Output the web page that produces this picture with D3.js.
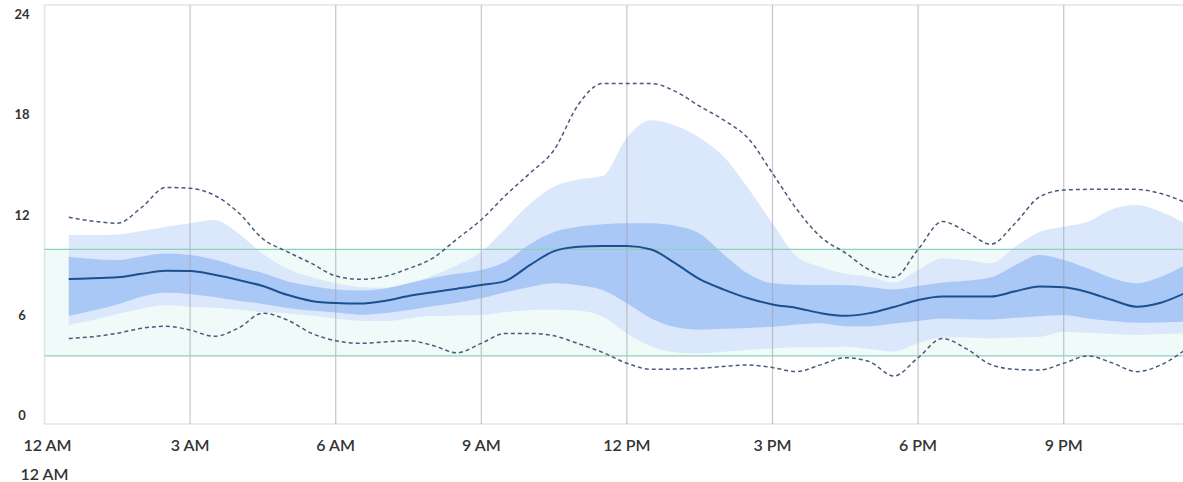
<!DOCTYPE html>
<html>
<head>
<meta charset="utf-8">
<script src="https://cdn.jsdelivr.net/npm/d3@7"></script>
<style>
  html, body { margin: 0; padding: 0; background: #fff; }
  svg { display: block; font-family: Lato, "Noto Sans", sans-serif; }
</style>
</head>
<body>
<svg id="chart" width="1183" height="482"></svg>
<script>
// Ambulatory glucose profile (mmol/L) sampled every half hour, 00:30 .. 23:30
const hours = d3.range(0.5, 23.51, 0.5);

const p5 = [4.9, 5.0, 5.2, 5.48, 5.6, 5.38, 5.02, 5.5, 6.35, 5.96, 5.2, 4.77, 4.62, 4.7, 4.77, 4.5,
            4.08, 4.62, 5.19, 5.19, 5.05, 4.6, 4.1, 3.48, 3.13, 3.15, 3.19, 3.3, 3.38, 3.23, 3.0, 3.4,
            3.8, 3.57, 2.75, 3.8, 4.9, 4.3, 3.4, 3.13, 3.09, 3.48, 3.9, 3.5, 3.0, 3.38, 4.24];

const p10 = [5.67, 5.95, 6.3, 6.6, 6.8, 6.72, 6.66, 6.55, 6.42, 6.35, 6.2, 6.05, 5.92, 5.9, 6.05, 6.2,
             6.22, 6.24, 6.42, 6.53, 6.55, 6.5, 6.15, 5.19, 4.45, 4.1, 4.05, 4.14, 4.25, 4.33, 4.4, 4.4,
             4.43, 4.3, 4.15, 4.62, 4.95, 4.95, 4.9, 4.95, 5.0, 5.29, 5.22, 5.15, 5.1, 5.15, 5.19];

const p25 = [6.19, 6.5, 6.85, 7.29, 7.52, 7.45, 7.27, 7.05, 6.88, 6.65, 6.5, 6.38, 6.26, 6.35, 6.53, 6.75,
             6.95, 7.2, 7.55, 7.85, 8.06, 7.95, 7.67, 6.91, 6.05, 5.55, 5.4, 5.45, 5.5, 5.57, 5.7, 5.77,
             5.6, 5.6, 5.75, 5.9, 6.05, 6.0, 5.98, 6.08, 6.17, 6.24, 6.05, 5.9, 5.8, 5.82, 5.86];

const median = [8.3, 8.35, 8.4, 8.6, 8.78, 8.76, 8.55, 8.25, 7.9, 7.4, 7.05, 6.93, 6.9, 7.05, 7.33, 7.55,
                7.75, 7.96, 8.2, 9.1, 9.9, 10.15, 10.2, 10.2, 10.0, 9.2, 8.3, 7.7, 7.2, 6.85, 6.65, 6.35,
                6.2, 6.35, 6.7, 7.1, 7.3, 7.3, 7.3, 7.6, 7.88, 7.83, 7.55, 7.1, 6.72, 6.95, 7.5];

const p75 = [9.58, 9.45, 9.39, 9.6, 9.76, 9.68, 9.42, 9.0, 8.65, 8.18, 7.9, 7.71, 7.65, 7.75, 8.06, 8.38,
             8.6, 8.82, 9.3, 10.3, 11.0, 11.3, 11.44, 11.5, 11.5, 11.35, 10.9, 9.7, 8.6, 8.06, 7.98, 7.96,
             7.96, 7.85, 7.7, 7.9, 8.1, 8.2, 8.4, 9.1, 9.68, 9.39, 8.9, 8.35, 8.06, 8.44, 9.1];

const p90 = [10.82, 10.82, 10.85, 11.05, 11.3, 11.5, 11.68, 10.9, 9.75, 8.9, 8.4, 8.06, 7.85, 7.8, 8.06, 8.5,
             9.1, 9.87, 11.2, 12.6, 13.6, 14.0, 14.2, 16.4, 17.4, 17.1, 16.4, 15.3, 13.5, 11.5, 9.6, 9.0,
             8.6, 8.44, 8.1, 8.82, 9.5, 9.39, 9.2, 10.15, 11.0, 11.3, 11.59, 12.3, 12.54, 12.16, 11.5];

const p95 = [11.84, 11.62, 11.5, 12.4, 13.55, 13.5, 13.1, 12.1, 10.6, 9.87, 9.2, 8.48, 8.29, 8.45, 8.9, 9.5,
             10.6, 11.7, 13.1, 14.36, 15.7, 18.3, 19.5, 19.5, 19.5, 19.05, 18.2, 17.4, 16.36, 14.36, 12.3, 10.7,
             9.8, 8.82, 8.4, 10.0, 11.6, 11.0, 10.3, 11.5, 13.0, 13.4, 13.44, 13.44, 13.44, 13.2, 12.7];

// Target range and axis labelling
const targetLow = 3.9;
const targetHigh = 10;
const yTicks = [0, 6, 12, 18, 24];
const xTickHours = [0, 3, 6, 9, 12, 15, 18, 21];
const xTickLabels = ["12 AM", "3 AM", "6 AM", "9 AM", "12 PM", "3 PM", "6 PM", "9 PM"];
const wrapLabel = "12 AM";

const svg = d3.select("#chart");

const x = d3.scaleLinear().domain([0, 24]).range([44.5, 1209.3]);
const y = d3.scaleLinear().domain([0, 24]).range([424, 5]);
// y labels sit on an evenly spaced ladder of their own
const yLabel = d3.scaleLinear().domain([0, 24]).range([415, 14]);

const rows = hours.map((h, i) => ({
  h, p5: p5[i], p10: p10[i], p25: p25[i], med: median[i], p75: p75[i], p90: p90[i], p95: p95[i]
}));

const curve = d3.curveMonotoneX;

// target band
svg.append("rect")
  .attr("x", x(0)).attr("width", x(24) - x(0))
  .attr("y", y(targetHigh)).attr("height", y(targetLow) - y(targetHigh))
  .attr("fill", "#f0faf8");

// percentile bands
const band = (lo, hi) => d3.area().curve(curve)
  .x(d => x(d.h)).y0(d => y(d[lo])).y1(d => y(d[hi]));

svg.append("path").datum(rows).attr("d", band("p10", "p90")).attr("fill", "#dbe7fb");
svg.append("path").datum(rows).attr("d", band("p25", "p75")).attr("fill", "#aac8f6");

// frame
svg.append("line").attr("x1", x(0)).attr("x2", 1183).attr("y1", y(24)).attr("y2", y(24))
  .attr("stroke", "#e3e3e6").attr("stroke-width", 1.5);
svg.append("line").attr("x1", x(0)).attr("x2", 1183).attr("y1", y(0)).attr("y2", y(0))
  .attr("stroke", "#e3e3e6").attr("stroke-width", 1.5);
svg.append("line").attr("x1", x(0)).attr("x2", x(0)).attr("y1", y(24)).attr("y2", y(0))
  .attr("stroke", "#e3e3e6").attr("stroke-width", 1.5);

// vertical grid
svg.append("g").selectAll("line").data(xTickHours.filter(h => h > 0)).join("line")
  .attr("x1", d => x(d)).attr("x2", d => x(d))
  .attr("y1", y(24)).attr("y2", y(0))
  .attr("stroke", "rgba(160,160,172,0.6)").attr("stroke-width", 1.2);

// target limits
svg.append("g").selectAll("line").data([targetHigh, targetLow]).join("line")
  .attr("x1", x(0)).attr("x2", 1183)
  .attr("y1", d => y(d)).attr("y2", d => y(d))
  .attr("stroke", "#88d4b9").attr("stroke-width", 1.4);

// 5th / 95th percentile dashed lines
const line = key => d3.line().curve(curve).x(d => x(d.h)).y(d => y(d[key]));
["p5", "p95"].forEach(k => {
  svg.append("path").datum(rows).attr("d", line(k))
    .attr("fill", "none").attr("stroke", "#485b7c")
    .attr("stroke-width", 1.5).attr("stroke-dasharray", "4,3");
});

// median
svg.append("path").datum(rows).attr("d", line("med"))
  .attr("fill", "none").attr("stroke", "#1c4f8e").attr("stroke-width", 2);

// y labels
svg.append("g").selectAll("text").data(yTicks).join("text")
  .attr("x", 22).attr("y", d => yLabel(d))
  .attr("text-anchor", "middle").attr("dominant-baseline", "central")
  .attr("font-size", 13).attr("font-weight", 700).attr("fill", "#333")
  .text(d => d);

// x labels
svg.append("g").selectAll("text").data(xTickHours).join("text")
  .attr("x", d => x(d) + (d === 0 ? 3 : 0)).attr("y", 444)
  .attr("text-anchor", "middle").attr("dominant-baseline", "central")
  .attr("font-size", 16).attr("font-weight", 600).attr("fill", "#333")
  .text((d, i) => xTickLabels[i]);

svg.append("text")
  .attr("x", x(0)).attr("y", 473)
  .attr("text-anchor", "middle").attr("dominant-baseline", "central")
  .attr("font-size", 16).attr("font-weight", 600).attr("fill", "#333")
  .text(wrapLabel);
</script>
</body>
</html>
